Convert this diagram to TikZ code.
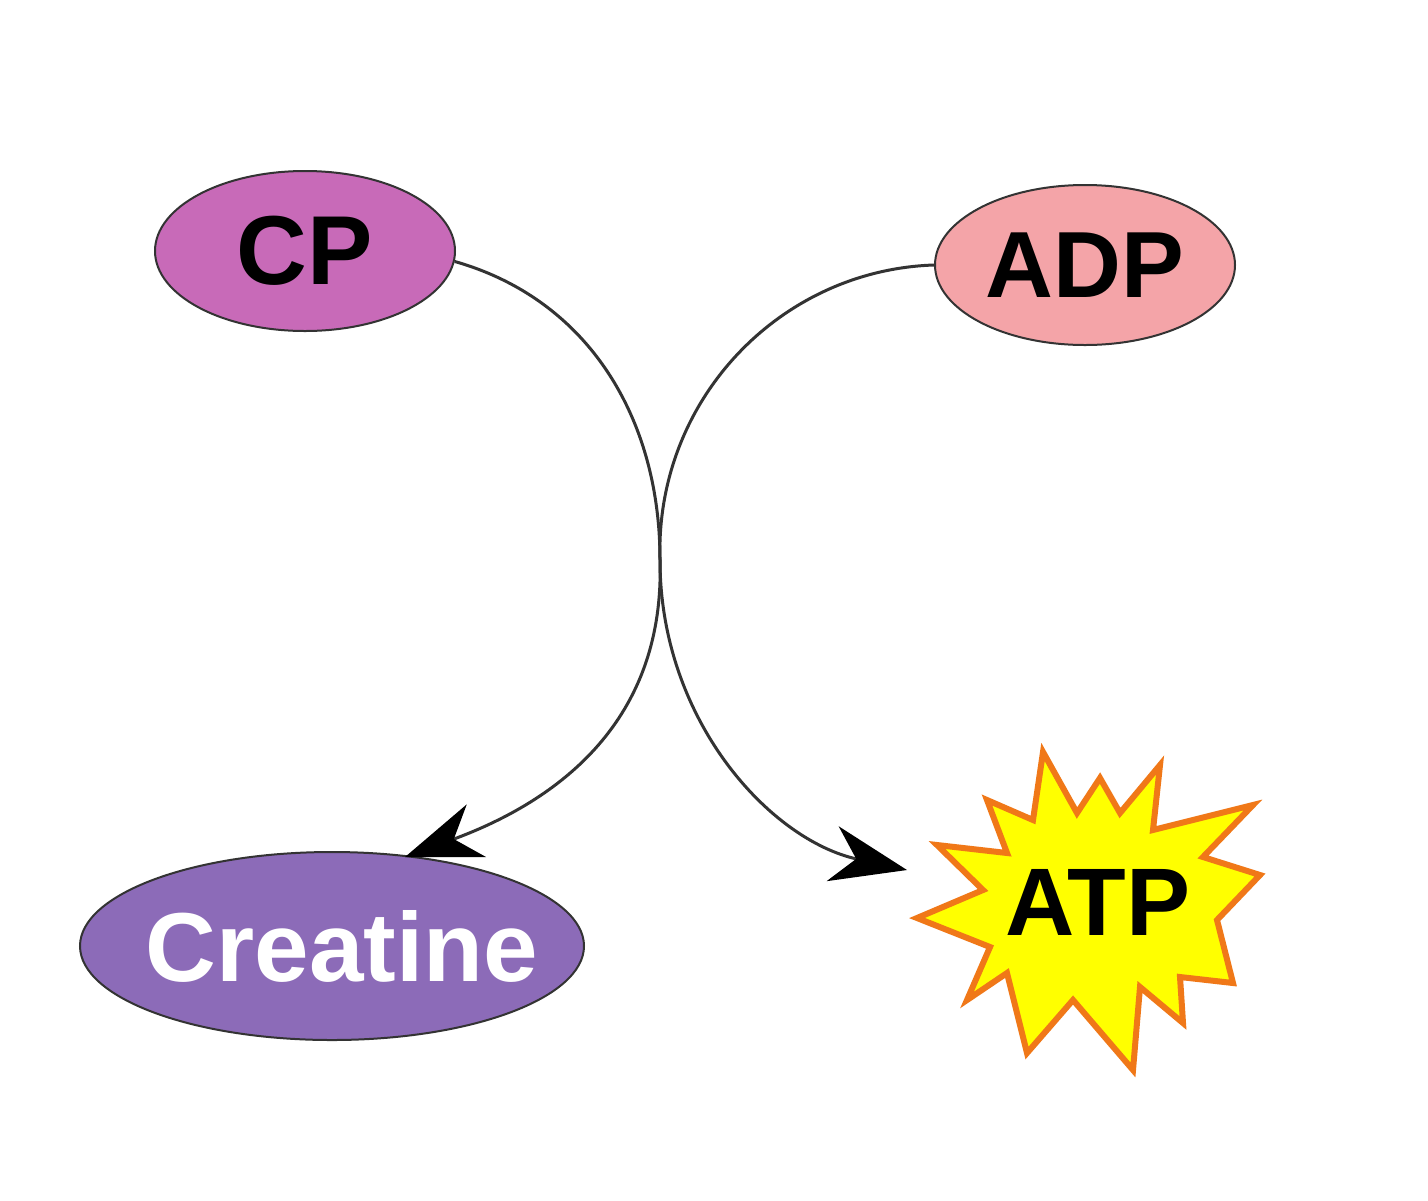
\documentclass[tikz,border=0pt]{standalone}
\usepackage{fontspec}
\setmainfont{Liberation Sans}
\usetikzlibrary{shapes.geometric,arrows.meta}
\definecolor{cpfill}{HTML}{C86AB8}
\definecolor{adpfill}{HTML}{F4A4A8}
\definecolor{crfill}{HTML}{8C6BB8}
\definecolor{starfill}{HTML}{FFFF00}
\definecolor{starline}{HTML}{F07818}
\definecolor{linec}{HTML}{333333}
\tikzset{
  mol/.style={ellipse, draw=black!80, line width=1pt, inner sep=0pt, font=\bfseries\fontsize{49}{55}\selectfont},
  conn/.style={draw=linec, line width=1.5pt, -{Stealth[length=38pt,width=28pt,inset=12pt,color=black]}},
}
\begin{document}
\begin{tikzpicture}[x=0.5pt,y=-0.5pt]
\useasboundingbox[fill=white] (0,0) rectangle (1428,1200);
% molecules
\node[mol, fill=cpfill, minimum width=150pt, minimum height=80pt] (cp) at (305,251) {CP};
\node[mol, fill=adpfill, minimum width=150pt, minimum height=80pt, font=\bfseries\fontsize{47}{55}\selectfont] (adp) at (1085,265) {ADP};
\node[mol, fill=crfill, minimum width=252pt, minimum height=94pt,
      label={[font=\bfseries\fontsize{49}{55}\selectfont, text=white, inner sep=0pt, xshift=5pt]center:Creatine}] (cr) at (332,946) {};
% starburst
\draw[fill=starfill, draw=starline, line width=3pt, line join=miter]
 (1043,752) -- (1077,813) -- (1100,778) -- (1120,813) -- (1160,765) -- (1153,830)
 -- (1253,805) -- (1203,857) -- (1260,875) -- (1217,920) -- (1233,983) -- (1180,977)
 -- (1183,1023) -- (1140,987) -- (1133,1070) -- (1073,1000) -- (1027,1053) -- (1007,973)
 -- (967,1000) -- (990,947) -- (917,918) -- (983,890) -- (937,845) -- (1007,853)
 -- (987,800) -- (1033,820) -- cycle;
\node[font=\bfseries\fontsize{48}{52}\selectfont, inner sep=0pt] (atp) at (1098,902) {ATP};
% arrow targets
\coordinate (atpin) at (907,870);
\coordinate (crin) at (405,857);
\coordinate (mid) at (660,560);
% connectors
\draw[conn] (cp.-4) .. controls (590,300) and (660,420) .. (mid) .. controls (660,720) and (770,840) .. (atpin);
\draw[conn] (adp.west) .. controls (780,270) and (655,400) .. (mid) .. controls (665,720) and (560,800) .. (crin);
\end{tikzpicture}
\end{document}
